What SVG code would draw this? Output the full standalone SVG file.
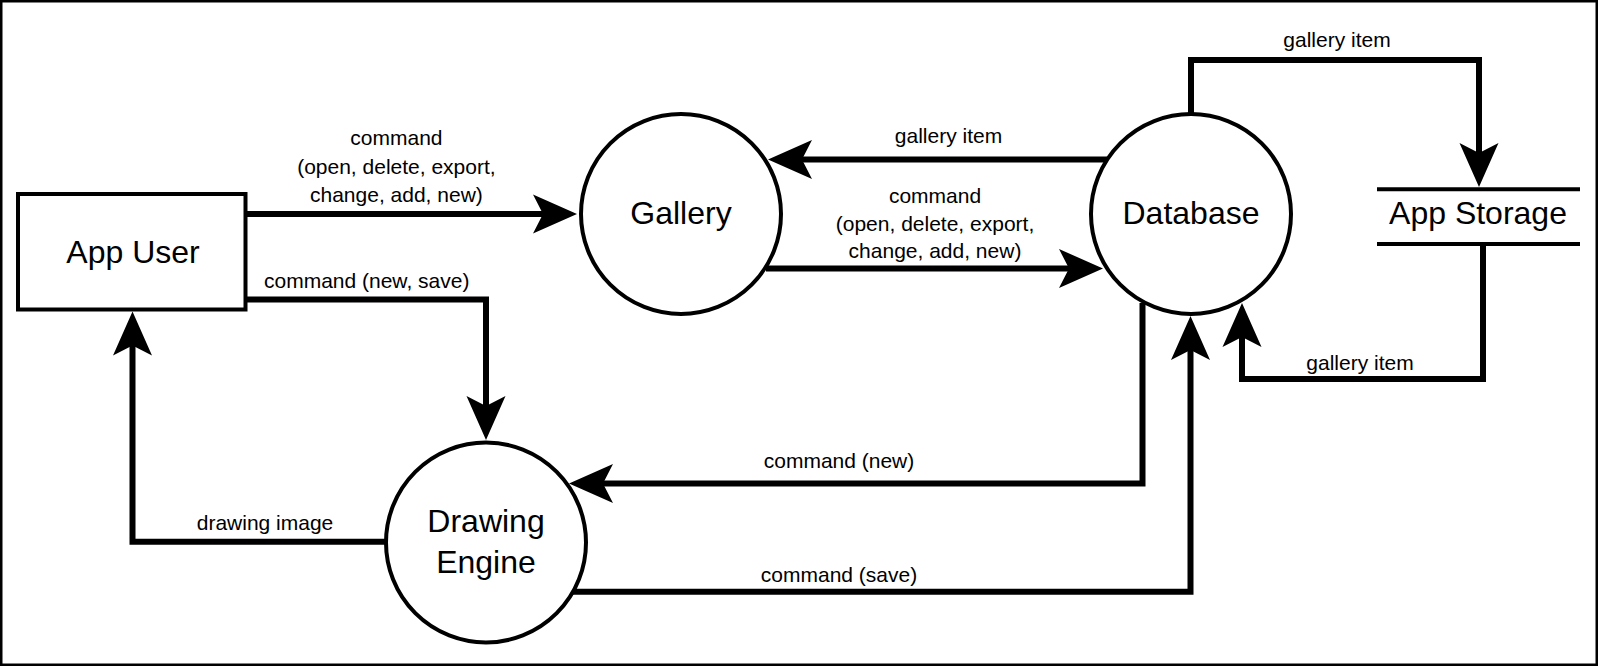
<svg xmlns="http://www.w3.org/2000/svg" width="1598" height="667" viewBox="0 0 1598 667">
  <style>
    .node { fill: #ffffff; stroke: #000000; stroke-width: 4; }
    .store { fill: none; stroke: #000000; stroke-width: 4; }
    .label { font-family: "Liberation Sans", Arial, sans-serif; font-size: 32px; fill: #000000; text-anchor: middle; }
    .small { font-family: "Liberation Sans", Arial, sans-serif; font-size: 21px; fill: #000000; text-anchor: middle; }
    .conn { fill: none; stroke: #000000; stroke-width: 6; stroke-linejoin: miter; marker-end: url(#arrow); }
  </style>
  <defs>
    <marker id="arrow" markerUnits="userSpaceOnUse" viewBox="-14 -21 48 42" markerWidth="48" markerHeight="42" refX="0" refY="0" orient="auto">
      <path d="M32,0 L-12,-19.5 L-2,0 L-12,19.5 Z" fill="#000000"/>
    </marker>
  </defs>
  <rect x="0" y="0" width="1598" height="667" fill="#ffffff"/>
  <rect x="1.25" y="1.25" width="1595.5" height="663.5" fill="none" stroke="#000000" stroke-width="2.5"/>

  <g id="connectors">
    <path class="conn" d="M245,214 H545"/>
    <path class="conn" d="M766,268.5 H1071"/>
    <path class="conn" d="M1107,159.5 H800"/>
    <path class="conn" d="M1191,116 V60 H1479 V155"/>
    <path class="conn" d="M1483,246 V379 H1242 V335"/>
    <path class="conn" d="M245,299.5 H486 V408"/>
    <path class="conn" d="M388,541.7 H132.5 V343.5"/>
    <path class="conn" d="M1142.5,303 V483.5 H601"/>
    <path class="conn" d="M573,591.7 H1190.5 V348"/>

    <text class="small" x="396.4" y="145">command</text>
    <text class="small" x="396.4" y="173.5">(open, delete, export,</text>
    <text class="small" x="396.4" y="201.5">change, add, new)</text>
    <text class="small" x="366.7" y="288.3">command (new, save)</text>
    <text class="small" x="948.5" y="143.3">gallery item</text>
    <text class="small" x="935" y="202.7">command</text>
    <text class="small" x="935" y="230.7">(open, delete, export,</text>
    <text class="small" x="935" y="258.3">change, add, new)</text>
    <text class="small" x="1337" y="46.7">gallery item</text>
    <text class="small" x="1360" y="370">gallery item</text>
    <text class="small" x="839" y="468.3">command (new)</text>
    <text class="small" x="839" y="581.7">command (save)</text>
    <text class="small" x="265" y="530">drawing image</text>
  </g>

  <g id="app-user">
    <rect class="node" x="18" y="194" width="227.5" height="115.5"/>
    <text class="label" x="133" y="263">App User</text>
  </g>

  <g id="gallery">
    <circle class="node" cx="681" cy="214" r="100"/>
    <text class="label" x="681" y="224">Gallery</text>
  </g>

  <g id="database">
    <circle class="node" cx="1191" cy="214" r="100"/>
    <text class="label" x="1191" y="223.5">Database</text>
  </g>

  <g id="app-storage">
    <line class="store" x1="1377" y1="189.3" x2="1580" y2="189.3"/>
    <line class="store" x1="1377" y1="244" x2="1580" y2="244"/>
    <text class="label" x="1478" y="224">App Storage</text>
  </g>

  <g id="drawing-engine">
    <circle class="node" cx="486" cy="542.5" r="100"/>
    <text class="label" x="486" y="531.7">Drawing</text>
    <text class="label" x="486" y="572.7">Engine</text>
  </g>
</svg>
